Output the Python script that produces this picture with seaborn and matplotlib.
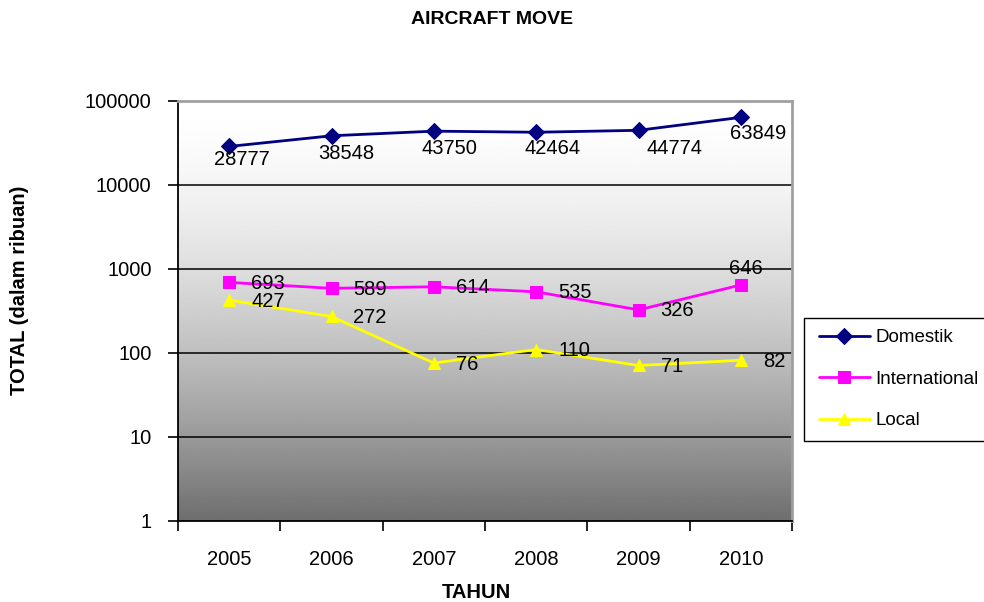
import numpy as np
import pandas as pd
import matplotlib
matplotlib.use("Agg")
import matplotlib.pyplot as plt
from matplotlib.patches import Rectangle
import seaborn as sns

years = ["2005", "2006", "2007", "2008", "2009", "2010"]
domestik = [28777, 38548, 43750, 42464, 44774, 63849]
international = [693, 589, 614, 535, 326, 646]
local = [427, 272, 76, 110, 71, 82]
series_names = ["Domestik", "International", "Local"]
y_ticks = [1, 10, 100, 1000, 10000, 100000]
y_tick_labels = ["1", "10", "100", "1000", "10000", "100000"]

sns.set_style("white")
plt.rcParams["font.family"] = ["Liberation Sans", "DejaVu Sans"]
plt.rcParams["text.color"] = "black"
plt.rcParams["axes.labelcolor"] = "black"
plt.rcParams["xtick.color"] = "black"
plt.rcParams["ytick.color"] = "black"

FS = 14.5
W, H = 984, 602
fig = plt.figure(figsize=(W / 100, H / 100), dpi=100)
pos = [178 / W, 1 - 521 / H, (792 - 178) / W, (521 - 101) / H]

# background gradient
bg = fig.add_axes(pos, zorder=0)
t = np.linspace(0, 1, 400)
vals = 255 - (255 - 110) * t ** 1.6
grad = np.repeat(vals[:, None], 2, axis=1)
bg.imshow(grad, cmap="gray", vmin=0, vmax=255, aspect="auto", extent=[0, 1, 0, 1], interpolation="bilinear")
bg.set_axis_off()

ax = fig.add_axes(pos, zorder=1)
ax.set_facecolor("none")

df = pd.DataFrame({
    "Tahun": years * 3,
    "Total": domestik + international + local,
    "Seri": [s for s in series_names for _ in years],
})
palette = {"Domestik": "#000080", "International": "#FF00FF", "Local": "#FFFF00"}
markers = {"Domestik": "D", "International": "s", "Local": "^"}
sns.lineplot(data=df, x="Tahun", y="Total", hue="Seri", style="Seri", palette=palette,
             markers=markers, dashes=False, linewidth=2.0, markersize=8.5, ax=ax, zorder=3)

for ln in ax.lines:
    ln.set_markeredgecolor(ln.get_color())
    if ln.get_marker() == "D":
        ln.set_markersize(8)

ax.set_yscale("log")
ax.set_ylim(1, 100000)
ax.set_xlim(-0.5, 5.5)
ax.set_yticks(y_ticks)
ax.set_yticklabels(y_tick_labels)
ax.minorticks_off()
ax.set_xticks(range(len(years)))
ax.set_xticklabels(years)
ax.set_xticks(np.arange(-0.5, 6.0, 1.0), minor=True)
ax.tick_params(axis="x", which="major", length=0, pad=21, labelsize=FS)
ax.tick_params(axis="x", which="minor", length=7, width=1.2, color="black", direction="out", bottom=True)
ax.tick_params(axis="y", which="major", length=7, width=1.2, color="black", direction="out", left=True, pad=12, labelsize=FS)
ax.set_xlabel("")
ax.set_ylabel("")
for y in [10, 100, 1000, 10000]:
    ax.axhline(y, color="black", lw=1.1, zorder=2)

for s in ["left", "bottom"]:
    ax.spines[s].set_color("black")
    ax.spines[s].set_linewidth(1.3)
for s in ["top", "right"]:
    ax.spines[s].set_color("#A0A0A0")
    ax.spines[s].set_linewidth(2.0)

# data labels (offsets in pixels)
dom_off = [(13, -13), (15, -18), (16, -17), (16, -16), (36, -18), (17, -16)]
for i, v in enumerate(domestik):
    ax.annotate(str(v), (i, v), xytext=dom_off[i], textcoords="offset pixels",
                ha="center", va="center", fontsize=FS, zorder=5)
for i, v in enumerate(international):
    if i == 5:
        ax.annotate(str(v), (i, v), xytext=(5, 16), textcoords="offset pixels",
                    ha="center", va="center", fontsize=FS, zorder=5)
    else:
        ax.annotate(str(v), (i, v), xytext=(22, -1), textcoords="offset pixels",
                    ha="left", va="center", fontsize=FS, zorder=5)
for i, v in enumerate(local):
    ax.annotate(str(v), (i, v), xytext=(22, -1), textcoords="offset pixels",
                ha="left", va="center", fontsize=FS, zorder=5)

handles, labels = ax.get_legend_handles_labels()
if ax.get_legend() is not None:
    ax.get_legend().remove()
for h in handles:
    h.set_markeredgecolor(h.get_color())

# legend frame drawn separately
fig.patches.append(Rectangle((804 / W, 1 - 441 / H), (995 - 804) / W, (441 - 318) / H,
                             transform=fig.transFigure, facecolor="white", edgecolor="black",
                             lw=1.0, zorder=0.5))
fig.legend(handles, labels, loc="upper left", bbox_to_anchor=(819 / W, 1 - 329 / H),
           borderaxespad=0, borderpad=0, frameon=False,
           fontsize=13.5, handlelength=2.7, handletextpad=0.3, labelspacing=1.3)

fig.text(492 / W, 1 - 20 / H, "AIRCRAFT MOVE", ha="center", va="center", fontsize=14, fontweight="bold")
fig.text(20 / W, 1 - 290 / H, "TOTAL (dalam ribuan)", ha="center", va="center", rotation=90,
         fontsize=FS, fontweight="bold")
fig.text(476 / W, 1 - 592 / H, "TAHUN", ha="center", va="center", fontsize=FS, fontweight="bold")

fig.savefig("out.png", dpi=100)
